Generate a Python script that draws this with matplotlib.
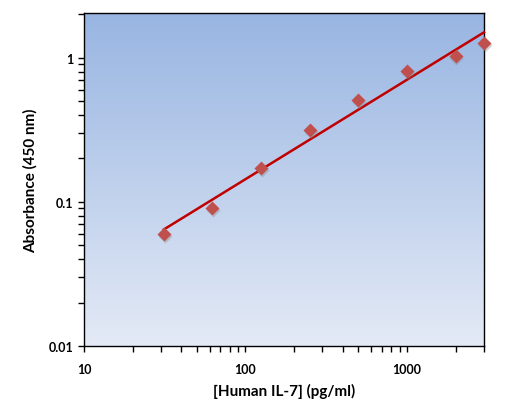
import numpy as np
import matplotlib.pyplot as plt
from matplotlib.ticker import FuncFormatter, LogLocator, NullFormatter

plt.rcParams['font.family'] = ['Lato', 'DejaVu Sans']

# standard curve data
conc = [31.25, 62.5, 125, 250, 500, 1000, 2000, 3000]
absorbance = [0.06, 0.09, 0.172, 0.316, 0.51, 0.81, 1.02, 1.27]

x_ticks = [10, 100, 1000]
y_ticks = [0.01, 0.1, 1]

fig = plt.figure(figsize=(5.2, 4.14), dpi=100)
rect = [0.1615, 0.1618, 0.7692, 0.8043]

# gradient background on its own axes
bg = fig.add_axes(rect, zorder=0)
top = np.array([152, 181, 226]) / 255
bottom = np.array([228, 234, 246]) / 255
t = np.linspace(0, 1, 256)[:, None]
grad = (top * (1 - t) + bottom * t)[:, None, :].repeat(2, axis=1)
bg.imshow(grad, extent=[0, 1, 0, 1], aspect='auto')
bg.axis('off')

ax = fig.add_axes(rect, zorder=1)
ax.patch.set_alpha(0)
ax.set_xscale('log')
ax.set_yscale('log')
ax.set_xlim(10, 3000)
ax.set_ylim(0.01, 2.04)

# power-law fit (straight on log-log)
p = np.polyfit(np.log10(conc), np.log10(absorbance), 1)
xf = np.logspace(np.log10(conc[0]), np.log10(conc[-1]), 50)
yf = 10 ** np.polyval(p, np.log10(xf))
ax.plot(xf, yf, color='#C00000', lw=1.8, zorder=3, clip_on=False)

# markers with a soft shadow
ax.plot(np.array(conc) * 1.012, np.array(absorbance) / 1.03, 'D', ms=7.5, color='gray',
        alpha=0.35, zorder=3.5, clip_on=False, mec='none')
ax.plot(conc, absorbance, 'D', ms=7.5, color='#C0504D', mec='none', zorder=4, clip_on=False)

ax.set_xticks(x_ticks)
ax.set_yticks(y_ticks)
fmt = FuncFormatter(lambda v, pos: '{:g}'.format(v))
ax.xaxis.set_major_formatter(fmt)
ax.yaxis.set_major_formatter(fmt)
ax.xaxis.set_minor_locator(LogLocator(base=10, subs=np.arange(2, 10)))
ax.yaxis.set_minor_locator(LogLocator(base=10, subs=np.arange(2, 10)))
ax.xaxis.set_minor_formatter(NullFormatter())
ax.yaxis.set_minor_formatter(NullFormatter())
ax.tick_params(which='both', direction='out', length=4, width=1, color='black')
ax.tick_params(axis='x', pad=8)
ax.tick_params(labelsize=9)
for lab in ax.get_xticklabels() + ax.get_yticklabels():
    lab.set_fontweight('bold')

for s in ax.spines.values():
    s.set_linewidth(1)
    s.set_color('black')

ax.set_xlabel('[Human IL-7] (pg/ml)', fontsize=11, fontweight='bold', labelpad=6)
ax.set_ylabel('Absorbance (450 nm)', fontsize=11, fontweight='bold', labelpad=8)

fig.savefig('out.png', dpi=100)
